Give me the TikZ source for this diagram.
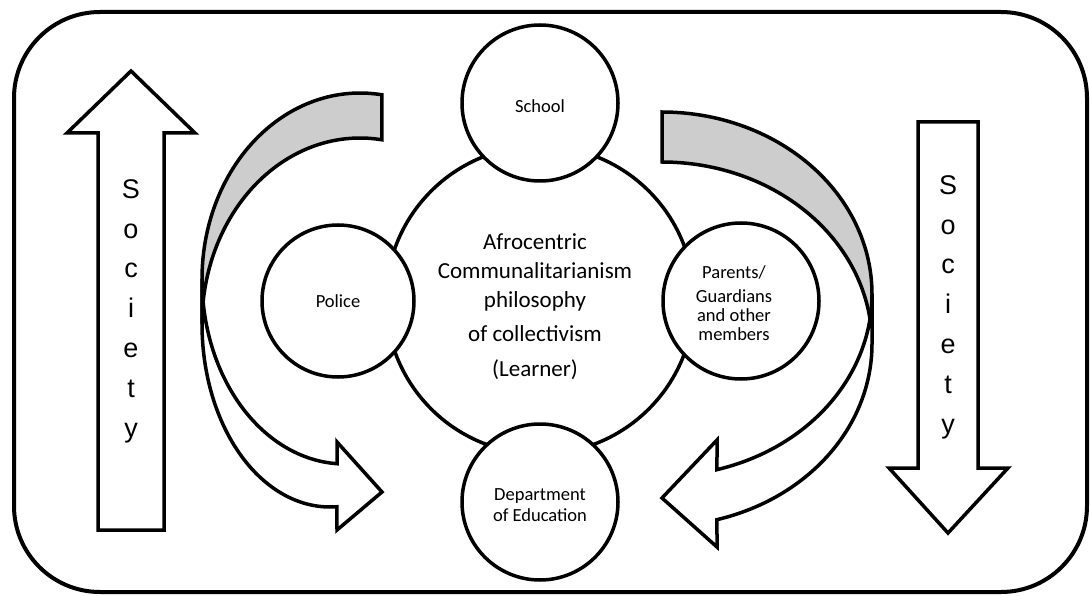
\documentclass[tikz,border=0pt]{standalone}
\usepackage{fontspec}
\setmainfont{Carlito}
\newfontfamily\socfont{Liberation Sans}
\definecolor{bandgray}{RGB}{205,205,205}
\begin{document}
\begin{tikzpicture}[x=1pt,y=-1pt,
  outline/.style={draw=black, line width=3.5pt},
  circ/.style={circle, outline, fill=white, inner sep=0pt, align=center},
  smalltext/.style={font=\fontsize{18.5}{19}\selectfont, align=center},
  depttext/.style={font=\fontsize{18.5}{21}\selectfont},
  bigtext/.style={font=\fontsize{23}{29}\selectfont, align=center},
  soctext/.style={font=\socfont\fontsize{27}{39.8}\selectfont, align=center},
  blockarrow/.style={outline, fill=white, line join=miter},
  backband/.style={outline, fill=bandgray, line join=miter},
  frontband/.style={outline, fill=white, line join=miter},
]
\useasboundingbox (0,0) rectangle (1090,596);
% outer frame
\draw[line width=4pt, rounded corners=86pt] (14,12) rectangle (1087,592);

% central circle and its text
\node[circ, minimum size=308pt] (learner) at (540,300) {};
\node[bigtext] (learnertext) at (535,307) {Afrocentric\\Communalitarianism\\philosophy\\[5pt]of collectivism\\[6pt](Learner)};

% satellite circles
\node[circ, minimum size=156pt] (school) at (540,103) {};
\node[smalltext] (schooltext) at (540,106) {School};
\node[circ, smalltext, minimum size=152pt] (police) at (338,301) {Police};
\node[circ, minimum size=156pt] (parents) at (741,301) {};
\node[smalltext] (parentstext) at (734,303) {Parents/\\[5pt]Guardians\\and other\\members};
\node[circ, minimum size=156pt] (dept) at (540,502) {};
\node[depttext, align=center] (depttxt) at (540,505) {Department\\of Education};

% left curved arrow
\draw[backband] plot[domain=-82:-180, samples=60] ({360+158*cos(\x)},{279+186*sin(\x)})
  -- plot[domain=-180:-82, samples=60] ({360+158*cos(\x)},{324+186*sin(\x)}) -- cycle;
\draw[frontband] plot[domain=180:93.2, samples=60] ({345+143*cos(\x)},{279+185*sin(\x)})
  -- (337,442) -- (382,492) -- (337,530)
  -- plot[domain=86.9:180, samples=60] ({330+128*cos(\x)},{324+183*sin(\x)}) -- cycle;

% right curved arrow
\draw[backband] plot[domain=-90:0, samples=60] ({662+210*cos(\x)},{294+182*sin(\x)})
  -- plot[domain=0:-90, samples=60] ({662+210*cos(\x)},{344+182*sin(\x)}) -- cycle;
\draw[frontband] plot[domain=0:74.82, samples=60] ({662+210*cos(\x)},{294+182*sin(\x)})
  -- (717,440) -- (662,498) -- (717,547)
  -- plot[domain=74.82:0, samples=60] ({662+210*cos(\x)},{344+182*sin(\x)}) -- cycle;

% society arrows
\draw[blockarrow] (98,530) -- (98,133) -- (67,133) -- (131,71) -- (195,133) -- (164,133) -- (164,530) -- cycle;
\node[soctext] (socL) at (131,311) {S\\o\\c\\i\\e\\t\\y};
\draw[blockarrow] (918,122) -- (978,122) -- (978,468) -- (1008,468) -- (948,533) -- (889,468) -- (918,468) -- cycle;
\node[soctext] (socR) at (948,307) {S\\o\\c\\i\\e\\t\\y};
\end{tikzpicture}
\end{document}
